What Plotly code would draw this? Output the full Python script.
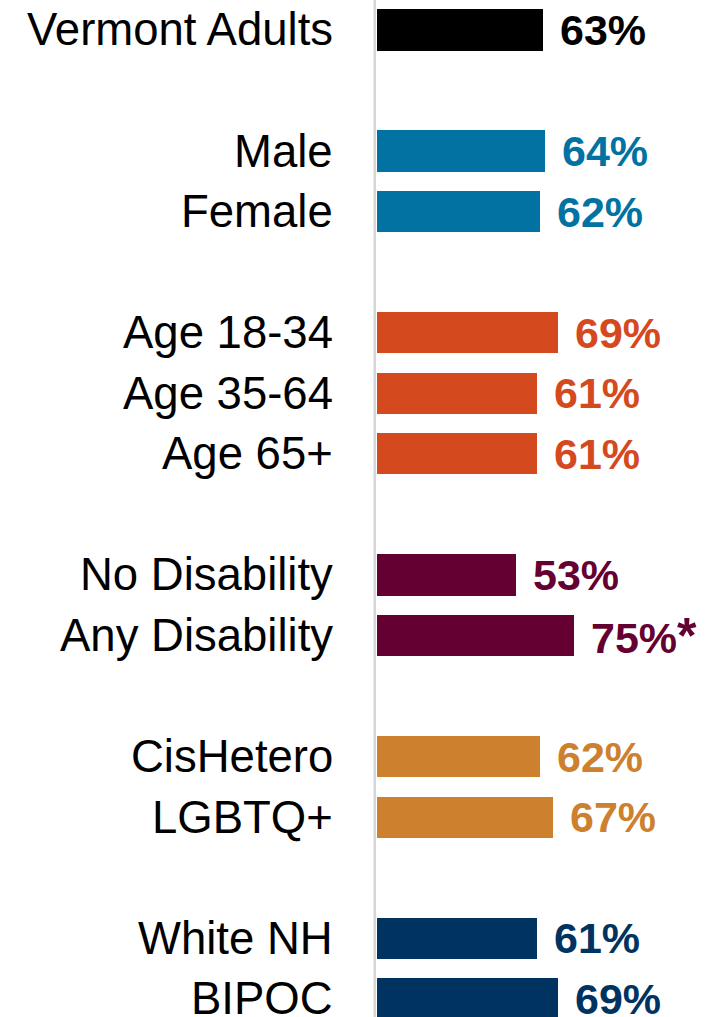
import plotly.graph_objects as go

# Survey results: share of Vermont adults, by group
categories = ["Vermont Adults", "Male", "Female", "Age 18-34", "Age 35-64", "Age 65+",
              "No Disability", "Any Disability", "CisHetero", "LGBTQ+", "White NH", "BIPOC"]
values = [63, 64, 62, 69, 61, 61, 53, 75, 62, 67, 61, 69]
groups = ["all", "sex", "sex", "age", "age", "age", "dis", "dis", "orient", "orient", "race", "race"]
flags = ["", "", "", "", "", "", "", "*", "", "", "", ""]

group_colors = {
    "all": "#000000",
    "sex": "#0172A2",
    "age": "#D5491F",
    "dis": "#650032",
    "orient": "#CD802D",
    "race": "#00335F",
}

# Row slots: an empty row is left between groups
slots = []
pos = 0
prev = None
for g in groups:
    if prev is not None and g != prev:
        pos += 1
    slots.append(pos)
    pos += 1
    prev = g

colors = [group_colors[g] for g in groups]

fig = go.Figure()
fig.add_trace(go.Bar(
    x=values, y=slots, orientation="h",
    marker=dict(color=colors, line=dict(width=0)),
    width=0.68, hoverinfo="skip",
))

# Category labels to the left of the axis line
for cat, s in zip(categories, slots):
    fig.add_annotation(x=0, y=s, xref="x", yref="y", text=cat, showarrow=False,
                       xanchor="right", yanchor="middle", xshift=-42,
                       font=dict(family="Liberation Sans, Arial, sans-serif", size=45.5, color="#000000"))

# Value labels at the end of each bar
for v, s, c, f in zip(values, slots, colors, flags):
    star = f"<span style='font-size:50px'>{f}</span>" if f else ""
    fig.add_annotation(x=v, y=s, xref="x", yref="y", text=f"<b>{v}%{star}</b>", showarrow=False,
                       xanchor="left", yanchor="middle", xshift=15,
                       font=dict(family="Liberation Sans, Arial, sans-serif", size=43, color=c))

# Light baseline to the left of the bars
fig.add_shape(type="line", xref="x", yref="paper", x0=-0.75, x1=-0.75, y0=0, y1=1,
              line=dict(color="#D6D6D6", width=2.5), layer="below")

fig.update_layout(
    width=723, height=1017,
    margin=dict(l=372, r=0, t=0, b=0),
    paper_bgcolor="white", plot_bgcolor="white",
    showlegend=False, bargap=0,
    xaxis=dict(range=[-1.786, 131.57], visible=False, fixedrange=True),
    yaxis=dict(range=[16.30, -0.495], visible=False, fixedrange=True),
)

fig.write_html("out.html")
